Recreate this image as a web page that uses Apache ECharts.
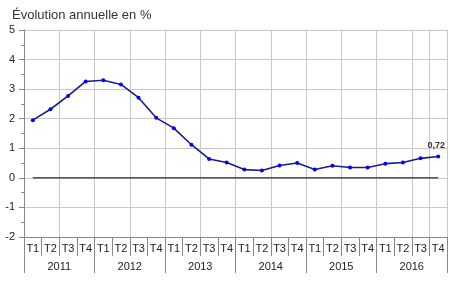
<!DOCTYPE html>
<html><head><meta charset="utf-8">
<script src="https://cdn.jsdelivr.net/npm/echarts@6/dist/echarts.min.js"></script>
<style>html,body{margin:0;padding:0;background:#fff}#c{width:450px;height:291px}</style>
</head><body><div id="c"></div>
<script>
const years = ['2011','2012','2013','2014','2015','2016'];
const quarters = ['T1','T2','T3','T4'];
const values = [1.95,2.32,2.77,3.26, 3.30,3.16,2.71,2.03, 1.68,1.12,0.64,0.52, 0.28,0.25,0.42,0.50, 0.28,0.41,0.35,0.35, 0.48,0.52,0.66,0.72];
const yTicks = [-2,-1,0,1,2,3,4,5];
const lastLabel = '0,72';

const cats = [];
years.forEach(y => quarters.forEach(q => cats.push(y + ' ' + q)));
const zeros = cats.map(() => 0);
const font = 'Liberation Sans, Arial, sans-serif';

const chart = echarts.init(document.getElementById('c'));
chart.setOption({
  animation: false,
  title: { text: 'Évolution annuelle en %', left: 7, top: 4, textStyle: { fontFamily: font, fontSize: 13, fontWeight: 'normal', color: '#333' } },
  grid: { left: 24, right: 3, top: 30, bottom: 54 },
  xAxis: [{
    type: 'category', data: cats, position: 'bottom',
    axisLine: { onZero: false, lineStyle: { color: '#888' } },
    axisTick: { show: true, length: 19, interval: 0, lineStyle: { color: '#888' } },
    axisLabel: { interval: 0, margin: 6, fontFamily: font, fontSize: 11, color: '#222', formatter: v => v.split(' ')[1] },
    splitLine: { show: true, interval: 1, lineStyle: { color: '#c8c8c8' } }
  }, {
    type: 'category', data: years, position: 'bottom',
    axisLine: { show: false, onZero: false },
    axisTick: { show: true, length: 36, lineStyle: { color: '#888' } },
    axisLabel: { margin: 24, fontFamily: font, fontSize: 11, color: '#222' },
    splitLine: { show: false }
  }],
  yAxis: {
    type: 'value', min: yTicks[0], max: yTicks[yTicks.length - 1], interval: 1,
    axisLine: { show: true, lineStyle: { color: '#888' } },
    axisTick: { show: true, length: 5, lineStyle: { color: '#888' } },
    minorTick: { show: true, splitNumber: 2, length: 3, lineStyle: { color: '#888' } },
    axisLabel: { margin: 9, fontFamily: font, fontSize: 11, color: '#222' },
    splitLine: { lineStyle: { color: '#c8c8c8' } }
  },
  series: [{
    type: 'line', data: zeros, xAxisIndex: 0, symbol: 'none', silent: true,
    lineStyle: { color: '#000', width: 1 }, z: 1
  }, {
    type: 'line', xAxisIndex: 0, z: 3,
    data: values.map((v, i) => i === values.length - 1 ? {
      value: v,
      label: { show: true, position: 'top', distance: 5, formatter: lastLabel, fontFamily: font, fontSize: 9, fontWeight: 'bold', color: '#333', offset: [-2, 0] }
    } : v),
    symbol: 'circle', symbolSize: 4,
    itemStyle: { color: '#0000ff' },
    lineStyle: { color: '#1c1c8c', width: 1.6 }
  }]
});
</script></body></html>
